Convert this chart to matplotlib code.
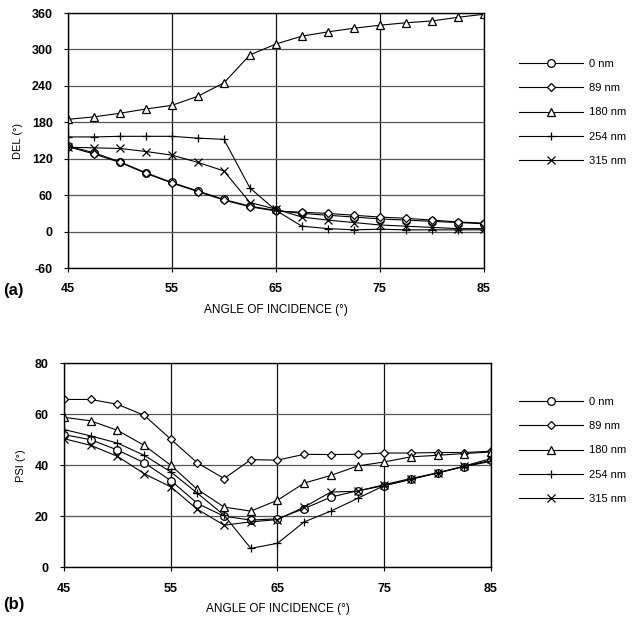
"""Ellipsometry DEL / PSI vs. angle of incidence for several film thicknesses."""
import matplotlib
matplotlib.use("Agg")
import matplotlib.pyplot as plt

plt.rcParams["font.family"] = ["Liberation Sans", "DejaVu Sans"]
plt.rcParams["axes.unicode_minus"] = False

angle = [45, 47.5, 50, 52.5, 55, 57.5, 60, 62.5, 65, 67.5, 70, 72.5, 75, 77.5, 80, 82.5, 85]
labels = ["0 nm", "89 nm", "180 nm", "254 nm", "315 nm"]
markers = ["o", "D", "^", "+", "x"]

# panel (a): DEL (deg)
del_0 = [141, 130, 115, 97, 81, 67, 53, 42, 35, 30, 27, 24, 21, 19, 17, 15, 13]
del_89 = [140, 128, 114, 96, 80, 66, 52, 41, 34, 32, 30, 27, 24, 22, 19, 16, 14]
del_180 = [185, 189, 195, 202, 208, 223, 245, 291, 309, 322, 329, 335, 340, 344, 347, 353, 358]
del_254 = [156, 156, 157, 157, 157, 154, 152, 72, 35, 9, 5, 3, 4, 3, 3, 3, 3]
del_315 = [139, 138, 137, 132, 126, 114, 100, 48, 37, 24, 19, 15, 11, 9, 7, 5, 5]

# panel (b): PSI (deg)
psi_0 = [52, 50, 46, 41, 34, 25, 20, 18.5, 19, 23, 27.5, 30, 32, 34.5, 37, 39.5, 42]
psi_89 = [65.8, 65.8, 63.9, 59.6, 50.2, 40.9, 34.8, 42.2, 42, 44.3, 44.2, 44.3, 44.8, 44.8, 45, 45, 45.5]
psi_180 = [58.8, 57.4, 53.7, 47.8, 40, 30.5, 23.6, 22, 26.3, 33, 36, 39.7, 41.3, 43.3, 43.9, 44.6, 45.2]
psi_254 = [54, 51.5, 48.7, 43.9, 37.4, 29, 20.4, 7.4, 9.4, 17.8, 22, 27, 32, 34.5, 37, 39.5, 41.5]
psi_315 = [50.4, 47.8, 43.5, 36.7, 31.5, 22.7, 16.5, 17.8, 18.7, 23.6, 29.5, 29.8, 32.4, 34.8, 37, 39.7, 42.6]


def draw_panel(fig, rect, series, ylim, yticks, ylabel, tag, tag_y, legend_top):
    ax = fig.add_axes(rect)
    for vals, lab, mk in zip(series, labels, markers):
        ms = 4.5 if mk == "D" else 5.5
        ax.plot(angle, vals, color="black", lw=0.8, marker=mk, ms=ms,
                mfc="white", mec="black", mew=0.9, label=lab)
    ax.set_xlim(45, 85)
    ax.set_ylim(*ylim)
    ax.set_xticks([45, 55, 65, 75, 85])
    ax.set_yticks(yticks)
    ax.yaxis.grid(True, color="#555555", lw=0.9)
    ax.xaxis.grid(True, color="#111111", lw=0.9)
    ax.set_axisbelow(True)
    for s in ax.spines.values():
        s.set_linewidth(1.0)
    ax.tick_params(direction="out", length=3, width=0.8, labelsize=9, pad=8)
    for t in ax.get_xticklabels() + ax.get_yticklabels():
        t.set_fontweight("bold")
    ax.set_ylabel(ylabel, fontsize=8, labelpad=6)
    ax.set_xlabel("ANGLE OF INCIDENCE (°)", fontsize=8.5, labelpad=6)
    fig.text(0.005, tag_y, tag, fontsize=12, fontweight="bold", va="center")
    fig.legend(*ax.get_legend_handles_labels(), loc="upper left",
               bbox_to_anchor=(0.817, legend_top), frameon=False,
               fontsize=8, handlelength=5.8, handletextpad=0.5,
               labelspacing=1.28, borderpad=0, borderaxespad=0)
    return ax


fig = plt.figure(figsize=(6.35, 6.22), dpi=100)

draw_panel(fig, [0.107, 0.569, 0.655, 0.410],
           [del_0, del_89, del_180, del_254, del_315],
           (-60, 360), range(-60, 361, 60), "DEL (°)", "(a)", 1 - 290 / 622, 1 - 59 / 622)
draw_panel(fig, [0.101, 0.088, 0.672, 0.328],
           [psi_0, psi_89, psi_180, psi_254, psi_315],
           (0, 80), range(0, 81, 20), "PSI (°)", "(b)", 1 - 605 / 622, 1 - 397 / 622)

fig.savefig("out.png", dpi=100)
